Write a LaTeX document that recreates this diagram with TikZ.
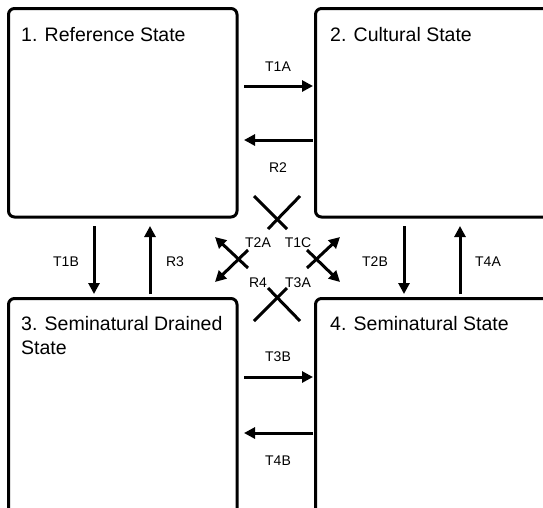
\documentclass[tikz,border=0pt]{standalone}
\usepackage{fontspec}
\setmainfont{Liberation Sans}
\usetikzlibrary{arrows.meta}
\begin{document}
\begin{tikzpicture}[x=1pt,y=-1pt,
  statebox/.style={draw, line width=3pt, rounded corners=6pt, inner sep=0pt, outer sep=0pt, anchor=north west},
  title/.style={inner sep=0pt, font=\fontsize{19.5}{24}\selectfont, align=left},
  lbl/.style={inner sep=0pt, font=\fontsize{14}{16}\selectfont},
  arr/.style={line width=3pt, -{Triangle[length=11pt,width=11pt]}},
  seg/.style={line width=3pt}]
\useasboundingbox (0,0) rectangle (543,507);
\clip (0,0) rectangle (543,507);
% state boxes
\node[statebox, minimum width=228.5pt, minimum height=208.5pt] (b1) at (8.5,8.5) {};
\node[statebox, minimum width=260pt, minimum height=208.5pt] (b2) at (315.5,8.5) {};
\node[statebox, minimum width=228.5pt, minimum height=240pt] (b3) at (8.5,298.5) {};
\node[statebox, minimum width=260pt, minimum height=240pt] (b4) at (315.5,298.5) {};
% titles
\node[title, anchor=base west] (t1) at (21,41) {1. Reference State};
\node[title, anchor=base west] (t2) at (330,41) {2. Cultural State};
\node[title, anchor=north west] (t3) at (21,315.7) {3. Seminatural Drained\\State};
\node[title, anchor=base west] (t4) at (330,330) {4. Seminatural State};
% horizontal arrows
\coordinate (a1s) at (244,86);  \coordinate (a1e) at (313,86);
\coordinate (a2s) at (313,140); \coordinate (a2e) at (244,140);
\coordinate (a3s) at (244,377); \coordinate (a3e) at (313,377);
\coordinate (a4s) at (313,433); \coordinate (a4e) at (244,433);
\draw[arr] (a1s) -- (a1e);
\draw[arr] (a2s) -- (a2e);
\draw[arr] (a3s) -- (a3e);
\draw[arr] (a4s) -- (a4e);
\node[lbl] (lT1A) at (278,66.5) {T1A};
\node[lbl] (lR2) at (278,168) {R2};
\node[lbl] (lT3B) at (278,357) {T3B};
\node[lbl] (lT4B) at (278,461) {T4B};
% vertical arrows
\coordinate (v1s) at (94,226);  \coordinate (v1e) at (94,294);
\coordinate (v2s) at (150,294); \coordinate (v2e) at (150,226);
\coordinate (v3s) at (404,226); \coordinate (v3e) at (404,294);
\coordinate (v4s) at (460,294); \coordinate (v4e) at (460,226);
\draw[arr] (v1s) -- (v1e);
\draw[arr] (v2s) -- (v2e);
\draw[arr] (v3s) -- (v3e);
\draw[arr] (v4s) -- (v4e);
\node[lbl] (lT1B) at (66,262) {T1B};
\node[lbl] (lR3) at (175,262) {R3};
\node[lbl] (lT2B) at (375,262) {T2B};
\node[lbl] (lT4A) at (488,262) {T4A};
% central crossings
\coordinate (x1a) at (254,196); \coordinate (x1b) at (287,229);
\coordinate (x2a) at (300,196); \coordinate (x2b) at (268,229);
\coordinate (x3a) at (254,321); \coordinate (x3b) at (287,288);
\coordinate (x4a) at (300,321); \coordinate (x4b) at (268,288);
\draw[seg] (x1a) -- (x1b);
\draw[seg] (x2a) -- (x2b);
\draw[seg] (x3a) -- (x3b);
\draw[seg] (x4a) -- (x4b);
\coordinate (d1s) at (248,268); \coordinate (d1e) at (215,237);
\coordinate (d2s) at (248,250); \coordinate (d2e) at (215,282);
\coordinate (d3s) at (307,268); \coordinate (d3e) at (340,237);
\coordinate (d4s) at (307,250); \coordinate (d4e) at (340,282);
\draw[arr] (d1s) -- (d1e);
\draw[arr] (d2s) -- (d2e);
\draw[arr] (d3s) -- (d3e);
\draw[arr] (d4s) -- (d4e);
\node[lbl] (lT2A) at (258,243) {T2A};
\node[lbl] (lT1C) at (298,243) {T1C};
\node[lbl] (lR4) at (258,283) {R4};
\node[lbl] (lT3A) at (298,283) {T3A};
\end{tikzpicture}
\end{document}
